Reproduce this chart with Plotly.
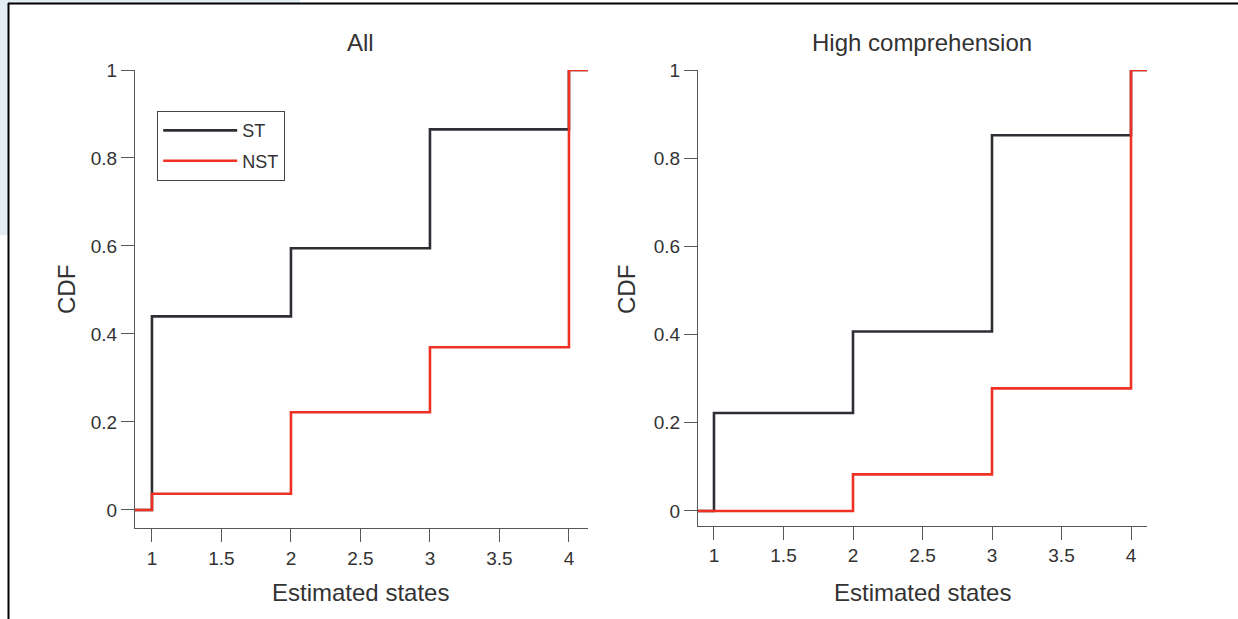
import plotly.graph_objects as go

# ---- data ----
states = [1, 2, 3, 4]
all_st = [0.44, 0.595, 0.865, 1.0]
all_nst = [0.037, 0.222, 0.37, 1.0]
high_st = [0.222, 0.407, 0.852, 1.0]
high_nst = [0.0, 0.083, 0.278, 1.0]
x_ticks = [1, 1.5, 2, 2.5, 3, 3.5, 4]
y_ticks = [0, 0.2, 0.4, 0.6, 0.8, 1]
panel_titles = ["All", "High comprehension"]
x_title = "Estimated states"
y_title = "CDF"

# axis extents of each panel
left_xrange = [0.878, 4.137]
right_xrange = [0.885, 4.115]
left_yrange = [-0.041, 1.0]
right_yrange = [-0.033, 1.0]

BLACK = "#2d2f35"
RED = "#ee3124"
AXIS = "#55575c"
TEXT = "#333333"
FONT = "Liberation Sans, Arial, sans-serif"


def step_xy(xr, vals):
    xs = [xr[0]] + states + [xr[1]]
    ys = [0.0] + vals + [vals[-1]]
    return xs, ys


fig = go.Figure()

for xr, st, nst, xa, ya, show in [
    (left_xrange, all_st, all_nst, "x", "y", True),
    (right_xrange, high_st, high_nst, "x2", "y2", False),
]:
    xs, ys = step_xy(xr, st)
    fig.add_trace(go.Scatter(x=xs, y=ys, mode="lines", line=dict(shape="hv", color=BLACK, width=2.6),
                             name="ST", legendgroup="st", showlegend=show, xaxis=xa, yaxis=ya))
    xs, ys = step_xy(xr, nst)
    fig.add_trace(go.Scatter(x=xs, y=ys, mode="lines", line=dict(shape="hv", color=RED, width=2.6),
                             name="NST", legendgroup="nst", showlegend=show, xaxis=xa, yaxis=ya))

W, H = 1238, 619


def px_x(p):
    return p / W


def px_y(p):
    return 1 - p / H


axis_common = dict(showgrid=False, zeroline=False, showline=True, linecolor=AXIS, linewidth=1.3,
                   ticks="outside", ticklen=13, tickwidth=1.3, tickcolor=AXIS, automargin=False,
                   tickfont=dict(family=FONT, size=19, color=TEXT), fixedrange=True)

fig.update_layout(
    width=W, height=H,
    margin=dict(l=0, r=0, t=0, b=0, autoexpand=False),
    paper_bgcolor="white", plot_bgcolor="white",
    showlegend=True,
    xaxis=dict(domain=[px_x(135), px_x(588)], range=left_xrange, anchor="y",
               tickvals=x_ticks, ticktext=[f"{v:g}" for v in x_ticks], **axis_common),
    yaxis=dict(domain=[px_y(528), px_y(70)], range=left_yrange, anchor="x",
               tickvals=y_ticks, ticktext=[f"{v:g}" for v in y_ticks], **axis_common),
    xaxis2=dict(domain=[px_x(698), px_x(1147)], range=right_xrange, anchor="y2",
                tickvals=x_ticks, ticktext=[f"{v:g}" for v in x_ticks], **axis_common),
    yaxis2=dict(domain=[px_y(525.5), px_y(70)], range=right_yrange, anchor="x2",
                tickvals=y_ticks, ticktext=[f"{v:g}" for v in y_ticks], **axis_common),
    legend=dict(x=px_x(157), y=px_y(111), xanchor="left", yanchor="top",
                bgcolor="white", bordercolor="#444444", borderwidth=1.2,
                font=dict(family=FONT, size=18, color=TEXT), itemwidth=74,
                tracegroupgap=4, traceorder="grouped"),
    font=dict(family=FONT, color=TEXT),
)

ann = []
for cx, t in [(360, panel_titles[0]), (922, panel_titles[1])]:
    ann.append(dict(text=t, x=px_x(cx), y=px_y(43), xref="paper", yref="paper",
                    xanchor="center", yanchor="middle",
                    showarrow=False, font=dict(family=FONT, size=24, color=TEXT)))
    ann.append(dict(text=x_title, x=px_x(cx), y=px_y(592), xref="paper", yref="paper",
                    xanchor="center", yanchor="middle",
                    showarrow=False, font=dict(family=FONT, size=24, color=TEXT)))
for cx in [66, 626]:
    ann.append(dict(text=y_title, x=px_x(cx), y=px_y(290), xref="paper", yref="paper",
                    xanchor="center", yanchor="middle",
                    showarrow=False, textangle=-90, font=dict(family=FONT, size=24, color=TEXT)))
fig.update_layout(annotations=ann)

# page frame of the original screenshot
fig.add_shape(type="rect", xref="paper", yref="paper", x0=0, x1=px_x(8), y0=px_y(235), y1=1,
              fillcolor="#e2eef4", line=dict(width=0), layer="below")
fig.add_shape(type="rect", xref="paper", yref="paper", x0=0, x1=px_x(300), y0=px_y(3), y1=1,
              fillcolor="#e2eef4", line=dict(width=0), layer="below")
fig.add_shape(type="line", xref="paper", yref="paper", x0=px_x(8), x1=1, y0=px_y(3.5), y1=px_y(3.5),
              line=dict(color="black", width=2))
fig.add_shape(type="line", xref="paper", yref="paper", x0=px_x(8.5), x1=px_x(8.5), y0=0, y1=px_y(3),
              line=dict(color="black", width=2))

fig.write_html("out.html", config={"displayModeBar": False},
               post_script="document.body.style.margin='0px';")
